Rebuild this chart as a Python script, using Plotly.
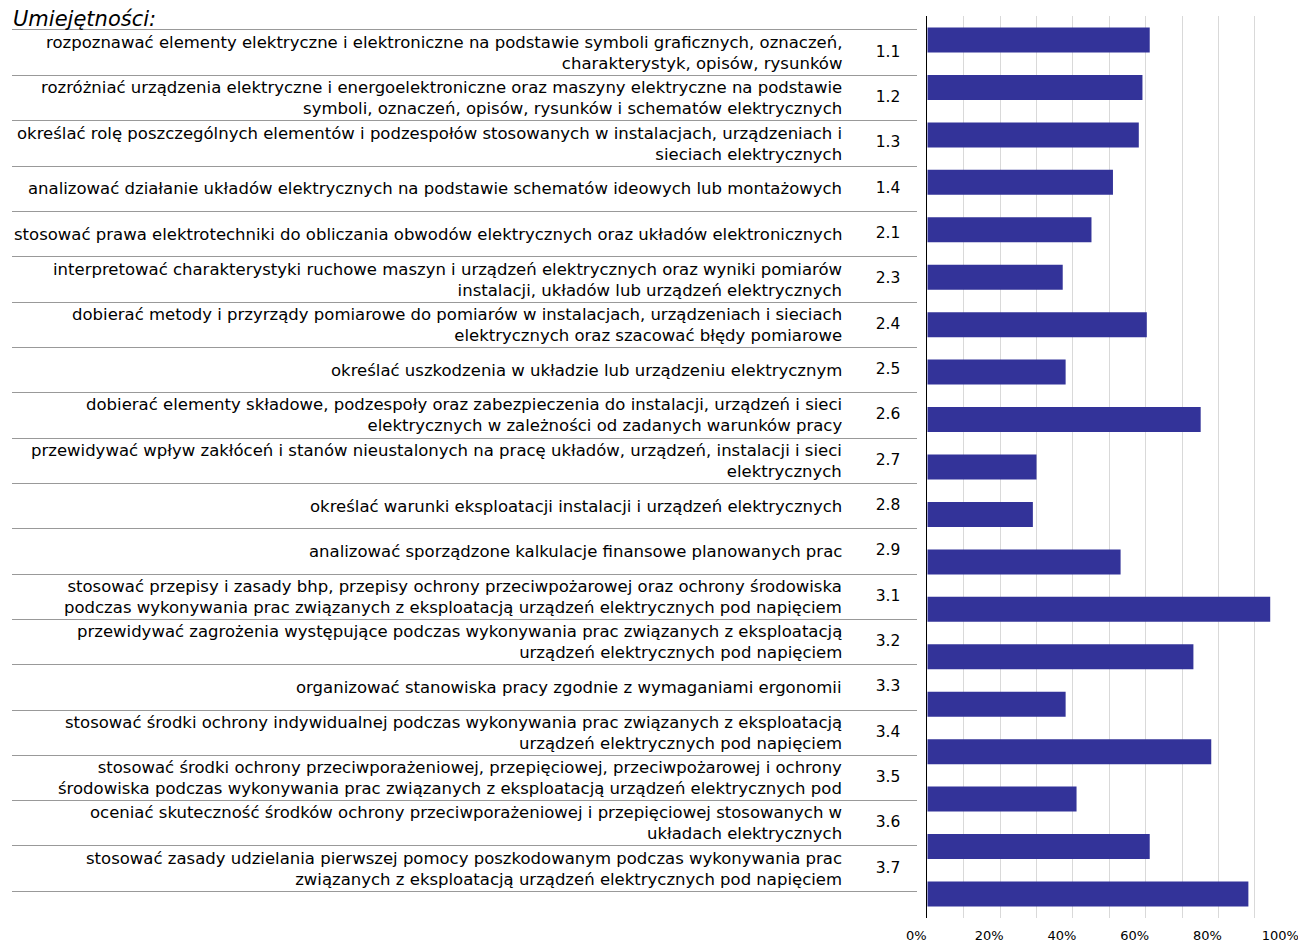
import plotly.graph_objects as go

# ---------------- data ----------------
codes = ["1.1", "1.2", "1.3", "1.4", "2.1", "2.3", "2.4", "2.5", "2.6", "2.7",
         "2.8", "2.9", "3.1", "3.2", "3.3", "3.4", "3.5", "3.6", "3.7"]

labels = [
    "rozpoznawać elementy elektryczne i elektroniczne na podstawie symboli graficznych, oznaczeń,<br>charakterystyk, opisów, rysunków",
    "rozróżniać urządzenia elektryczne i energoelektroniczne oraz maszyny elektryczne na podstawie<br>symboli, oznaczeń, opisów, rysunków i schematów elektrycznych",
    "określać rolę poszczególnych elementów i podzespołów stosowanych w instalacjach, urządzeniach i<br>sieciach elektrycznych",
    "analizować działanie układów elektrycznych na podstawie schematów ideowych lub montażowych",
    "stosować prawa elektrotechniki do obliczania obwodów elektrycznych oraz układów elektronicznych",
    "interpretować charakterystyki ruchowe maszyn i urządzeń elektrycznych oraz wyniki pomiarów<br>instalacji, układów lub urządzeń elektrycznych",
    "dobierać metody i przyrządy pomiarowe do pomiarów w instalacjach, urządzeniach i sieciach<br>elektrycznych oraz szacować błędy pomiarowe",
    "określać uszkodzenia w układzie lub urządzeniu elektrycznym",
    "dobierać elementy składowe, podzespoły oraz zabezpieczenia do instalacji, urządzeń i sieci<br>elektrycznych w zależności od zadanych warunków pracy",
    "przewidywać wpływ zakłóceń i stanów nieustalonych na pracę układów, urządzeń, instalacji i sieci<br>elektrycznych",
    "określać warunki eksploatacji instalacji i urządzeń elektrycznych",
    "analizować sporządzone kalkulacje finansowe planowanych prac",
    "stosować przepisy i zasady bhp, przepisy ochrony przeciwpożarowej oraz ochrony środowiska<br>podczas wykonywania prac związanych z eksploatacją urządzeń elektrycznych pod napięciem",
    "przewidywać zagrożenia występujące podczas wykonywania prac związanych z eksploatacją<br>urządzeń elektrycznych pod napięciem",
    "organizować stanowiska pracy zgodnie z wymaganiami ergonomii",
    "stosować środki ochrony indywidualnej podczas wykonywania prac związanych z eksploatacją<br>urządzeń elektrycznych pod napięciem",
    "stosować środki ochrony przeciwporażeniowej, przepięciowej, przeciwpożarowej i ochrony<br>środowiska podczas wykonywania prac związanych z eksploatacją urządzeń elektrycznych pod",
    "oceniać skuteczność środków ochrony przeciwporażeniowej i przepięciowej stosowanych w<br>układach elektrycznych",
    "stosować zasady udzielania pierwszej pomocy poszkodowanym podczas wykonywania prac<br>związanych z eksploatacją urządzeń elektrycznych pod napięciem",
]

values = [0.611, 0.591, 0.581, 0.510, 0.451, 0.372, 0.603, 0.380, 0.751, 0.300,
          0.290, 0.531, 0.942, 0.731, 0.380, 0.780, 0.410, 0.611, 0.882]

tick_vals = [0, 0.2, 0.4, 0.6, 0.8, 1.0]
tick_text = ["0%", "20%", "40%", "60%", "80%", "100%"]
header = "Umiejętności:"

# ---------------- figure ----------------
W, H = 1298, 943
FONT = "DejaVu Sans"
n = len(codes)

fig = go.Figure()

fig.add_trace(go.Bar(
    x=values, y=codes, orientation="h",
    marker=dict(color="#333399", line=dict(width=0)),
    xaxis="x", yaxis="y", hoverinfo="x+y", showlegend=False,
))

# code column of the table
fig.add_trace(go.Scatter(
    x=[0.968] * n, y=codes, mode="text", text=codes,
    textposition="middle center",
    textfont=dict(family=FONT, size=15.5, color="#000000"),
    xaxis="x2", yaxis="y2", hoverinfo="skip", showlegend=False,
))

annotations = []
for i, lab in enumerate(labels):
    annotations.append(dict(
        x=0.9195, y=i, xref="x2", yref="y2", text=lab,
        xanchor="right", yanchor="middle", align="right", showarrow=False,
        font=dict(family=FONT, size=16.5, color="#000000"),
    ))
annotations.append(dict(
    x=11 / W, y=1 - 19 / H, xref="paper", yref="paper", text="<i>" + header + "</i>",
    xanchor="left", yanchor="middle", showarrow=False,
    font=dict(family=FONT, size=21, color="#000000"),
))

fig.update_layout(
    width=W, height=H,
    margin=dict(l=0, r=0, t=0, b=0, autoexpand=False),
    paper_bgcolor="white", plot_bgcolor="rgba(0,0,0,0)",
    bargap=0.473,
    showlegend=False,
    annotations=annotations,
    xaxis=dict(
        domain=[927.3 / W, 1291.7 / W], range=[0, 1.001], anchor="y",
        tickvals=tick_vals, ticktext=tick_text,
        ticks="outside", ticklen=6, tickcolor="rgba(0,0,0,0)",
        ticklabelshift=-11, ticklabeloverflow="allow",
        tickfont=dict(family=FONT, size=13, color="#000000"),
        showgrid=True, gridcolor="#d9d9d9", gridwidth=1,
        minor=dict(dtick=0.1, showgrid=True, gridcolor="#d9d9d9", gridwidth=1),
        zeroline=False, showline=False, fixedrange=True,
    ),
    yaxis=dict(
        domain=[1 - 917.7 / H, 1 - 16.3 / H], anchor="x",
        type="category", categoryorder="array", categoryarray=codes,
        range=[n - 0.5, -0.5], autorange=False,
        showticklabels=False, ticks="", showgrid=False, zeroline=False,
        showline=True, linecolor="#000000", linewidth=1, fixedrange=True,
    ),
    xaxis2=dict(
        domain=[12 / W, 917 / W], range=[0, 1], anchor="y2",
        showticklabels=False, ticks="", showgrid=False, zeroline=False,
        showline=True, mirror=True, linecolor="#999999", linewidth=1, fixedrange=True,
    ),
    yaxis2=dict(
        domain=[1 - 891.3 / H, 1 - 30.3 / H], anchor="x2",
        type="category", categoryorder="array", categoryarray=codes,
        range=[n - 0.5, -0.5], autorange=False, tickson="boundaries",
        showticklabels=False, ticks="", showgrid=True, gridcolor="#999999", gridwidth=1,
        zeroline=False, showline=False, fixedrange=True,
    ),
)

fig.write_html("out.html", config={"displayModeBar": False},
               post_script="document.body.style.margin='0';document.body.style.overflow='hidden';")
